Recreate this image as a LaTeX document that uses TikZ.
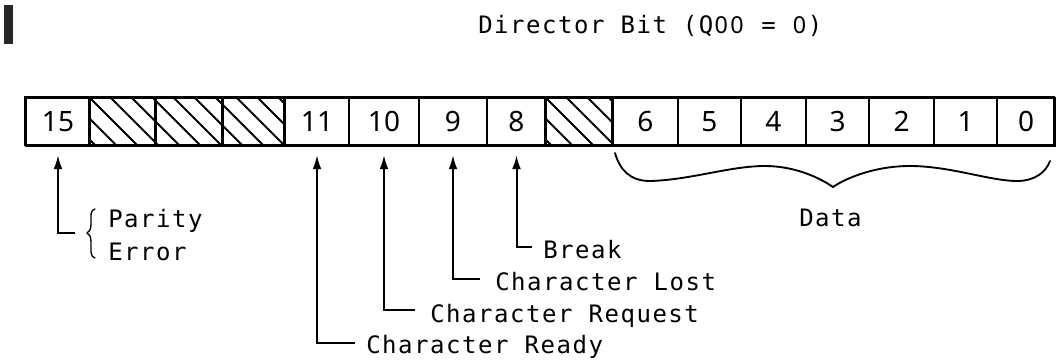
\documentclass[tikz,border=0pt]{standalone}
\usepackage{fontspec}
\usetikzlibrary{arrows.meta}
\newfontfamily\lblfont[LetterSpace=6.4]{DejaVu Sans Mono}
\newfontfamily\digfont{Noto Sans}
\newcommand\plainzero{\makebox[12pt][l]{\hspace{0.8pt}{\digfont\fontsize{17.5}{20}\selectfont 0}}}
\begin{document}
\begin{tikzpicture}[x=0.75pt,y=-0.75pt,
  cell/.style={draw, line width=1.5pt, minimum height=36pt, inner sep=0pt,
    text height=15pt, text depth=0pt,
    anchor=north west, font=\digfont\fontsize{21}{24}\selectfont},
  hatch/.style={line width=1.5pt},
  lbl/.style={anchor=base west, inner sep=0pt, font=\lblfont\fontsize{18}{20}\selectfont},
  conn/.style={line width=1.5pt, -{Latex[length=10.5pt,width=6.5pt]}, shorten >=6pt},
  bracepath/.style={line width=1.4pt, line cap=round, line join=round}]
\useasboundingbox (0,0) rectangle (1057,360);

% scan mark
\fill[black!85] (4,5) rectangle (13,44);

% title
\node[lbl] (ttl) at (478,34) {Director Bit (Q\plainzero\plainzero{} = \plainzero)};

% register cells
\node[cell, minimum width=48pt]    (c15) at (25,97)  {15};
\node[cell, minimum width=49.5pt]  (c14) at (89,97)  {};
\node[cell, minimum width=50.25pt] (c13) at (155,97) {};
\node[cell, minimum width=46.5pt]  (c12) at (222,97) {};
\node[cell, minimum width=48pt]    (c11) at (284,97) {11};
\node[cell, minimum width=52.5pt]  (c10) at (348,97) {10};
\node[cell, minimum width=51pt]    (c9)  at (418,97) {9};
\node[cell, minimum width=44.25pt] (c8)  at (486,97) {8};
\node[cell, minimum width=50.25pt] (c7)  at (545,97) {};
\node[cell, minimum width=48.75pt] (c6)  at (612,97) {6};
\node[cell, minimum width=47.25pt] (c5)  at (677,97) {5};
\node[cell, minimum width=48.75pt] (c4)  at (740,97) {4};
\node[cell, minimum width=47.25pt] (c3)  at (805,97) {3};
\node[cell, minimum width=48.75pt] (c2)  at (868,97) {2};
\node[cell, minimum width=47.25pt] (c1)  at (933,97) {1};
\node[cell, minimum width=43.5pt]  (c0)  at (996,97) {0};

% hatching
\begin{scope}
  \clip (89,97) rectangle (284,145);
  \foreach \k in {-3,...,10} \draw[hatch] ({89+\k*21},97) -- ++(48,48);
\end{scope}
\begin{scope}
  \clip (545,97) rectangle (612,145);
  \foreach \k in {-3,...,4} \draw[hatch] ({545+\k*21},97) -- ++(48,48);
\end{scope}
\draw[line width=1.5pt] (89,97) -- (89,145) (155,97) -- (155,145) (222,97) -- (222,145) (284,97) -- (284,145) (545,97) -- (545,145) (612,97) -- (612,145);

% outer frame
\draw[line width=1.9pt] (25,97) rectangle (1054,145);

% labels
\node[lbl] (par) at (108,227) {Parity};
\node[lbl] (err) at (108,260) {Error};
\node[lbl] (brk) at (543,258) {Break};
\node[lbl] (lost) at (495,290) {Character Lost};
\node[lbl] (req) at (430,322) {Character Request};
\node[lbl] (rdy) at (366,353) {Character Ready};
\node[lbl] (dat) at (799,226) {Data};

% connector end points
\coordinate (e15) at (75,233);
\coordinate (e8)  at (532,247);
\coordinate (e9)  at (480,279);
\coordinate (e10) at (415,310);
\coordinate (e11) at (355,343);

\draw[conn] (e15) -| (c15.south);
\draw[conn] (e8)  -| (c8.south);
\draw[conn] (e9)  -| (c9.south);
\draw[conn] (e10) -| (c10.south);
\draw[conn] (e11) -| (c11.south);

% small brace for Parity Error
\draw[bracepath, line width=1pt] (95,209) .. controls (90,210) and (91,216) .. (91,224)
  .. controls (91,230) and (89,232) .. (87,233)
  .. controls (89,234) and (91,236) .. (91,242)
  .. controls (91,250) and (90,257) .. (95,258);

% data brace
\draw[bracepath] (615,153) .. controls (620,170) and (630,181) .. (650,181)
  .. controls (690,180) and (730,166) .. (765,166)
  .. controls (795,166) and (820,178) .. (833,187)
  .. controls (846,178) and (875,166) .. (910,166)
  .. controls (950,166) and (990,181) .. (1017,181)
  .. controls (1035,181) and (1046,172) .. (1050,161);
\end{tikzpicture}
\end{document}
